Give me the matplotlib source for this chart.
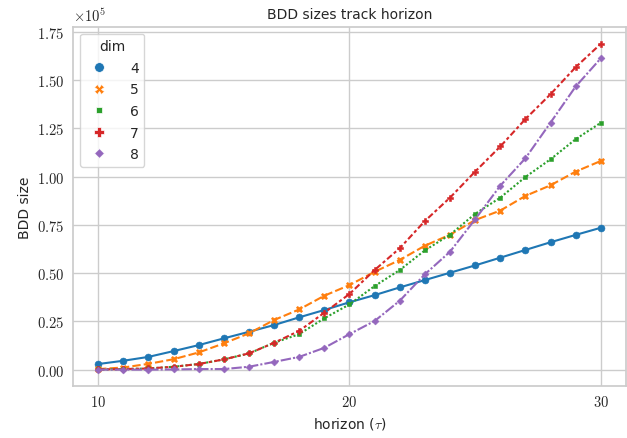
# BDD sizes vs horizon, one line per dim
import numpy as np
import matplotlib
matplotlib.use('Agg')
import matplotlib.pyplot as plt
import matplotlib.ticker as tck
from matplotlib.lines import Line2D

plt.rcParams['font.family'] = ['DejaVu Sans']
plt.rcParams['mathtext.fontset'] = 'cm'
plt.rcParams['text.color'] = '.15'
plt.rcParams['axes.labelcolor'] = '.15'
plt.rcParams['xtick.color'] = '.15'
plt.rcParams['ytick.color'] = '.15'

# horizon values
horizon = list(range(10, 31))

# BDD sizes (nodes)
dim4 = [2900, 4600, 6600, 9600, 12700, 16200, 19600, 23100, 27100, 30900, 34900,
        38600, 42600, 46400, 50200, 54000, 58000, 62000, 66000, 69800, 73500]
dim5 = [300, 1100, 3000, 5400, 8900, 13600, 18800, 25700, 31200, 38300, 43800,
        50700, 56800, 64200, 69900, 77500, 82400, 90000, 95500, 102600, 108100]
dim6 = [100, 300, 600, 1500, 2900, 5300, 8400, 13900, 18400, 26600, 33800,
        43300, 51600, 61800, 69900, 80700, 89100, 99800, 109000, 119400, 127900]
dim7 = [100, 300, 600, 1500, 2900, 5300, 8400, 13900, 20100, 29500, 39200,
        51600, 62900, 77000, 89100, 102600, 115600, 129800, 142700, 156700, 168800]
dim8 = [0, 0, 0, 100, 300, 300, 1500, 4000, 6600, 11300, 18400,
        25200, 35700, 49400, 61100, 77900, 95300, 109500, 128000, 146700, 161300]

dims = ['4', '5', '6', '7', '8']
series = [dim4, dim5, dim6, dim7, dim8]
colors = ['#1f77b4', '#ff7f0e', '#2ca02c', '#d62728', '#9467bd']
markers = ['o', 'X', (4, 0, 45), 'P', (4, 0, 0)]
dashes = [(), (4, 1.5), (1, 1), (3, 1.25, 1.5, 1.25), (5, 1, 1, 1)]

fig = plt.figure(figsize=(6.27, 4.39), dpi=100)
ax = fig.add_axes([0.1164, 0.1185, 0.882, 0.8185])

for y, c, m, d in zip(series, colors, markers, dashes):
    line, = ax.plot(horizon, y, color=c, marker=m, markersize=5,
                    markeredgecolor=c, markeredgewidth=0.4, linewidth=1.5)
    if d:
        line.set_dashes(d)

ax.set_xlim(9, 31)
ax.set_ylim(-8460, 177660)
ax.xaxis.set_major_locator(tck.MultipleLocator(10))
ax.yaxis.set_major_locator(tck.MultipleLocator(25000))
ax.xaxis.set_major_formatter(tck.FuncFormatter(lambda v, p: f'${int(round(v))}$'))
ax.yaxis.set_major_formatter(tck.FuncFormatter(lambda v, p: f'${v/1e5:.2f}$'))
ax.tick_params(length=0, labelsize=10.5, pad=6)
ax.text(0.0, 1.008, r'$\times10^{5}$', transform=ax.transAxes, ha='left', va='bottom',
        fontsize=10.5)

# whitegrid look
ax.grid(color='#cccccc', linewidth=1)
ax.set_axisbelow(True)
for s in ax.spines.values():
    s.set_color('#cccccc')
    s.set_linewidth(1.25)

ax.set_title('BDD sizes track horizon', fontsize=10)
ax.set_xlabel(r'horizon ($\tau$)', fontsize=10)
ax.set_ylabel('BDD size', fontsize=10)

handles = [Line2D([], [], ls='none', color=c, marker=m, markersize=7,
                  markeredgecolor='w', markeredgewidth=0.5)
           for c, m in zip(colors, markers)]
leg = ax.legend(handles, dims, title='dim', loc='upper left', fontsize=10,
                title_fontsize=10, frameon=True, edgecolor='#cccccc',
                labelspacing=0.55, handletextpad=1.2)

fig.savefig('out.png', dpi=100)
